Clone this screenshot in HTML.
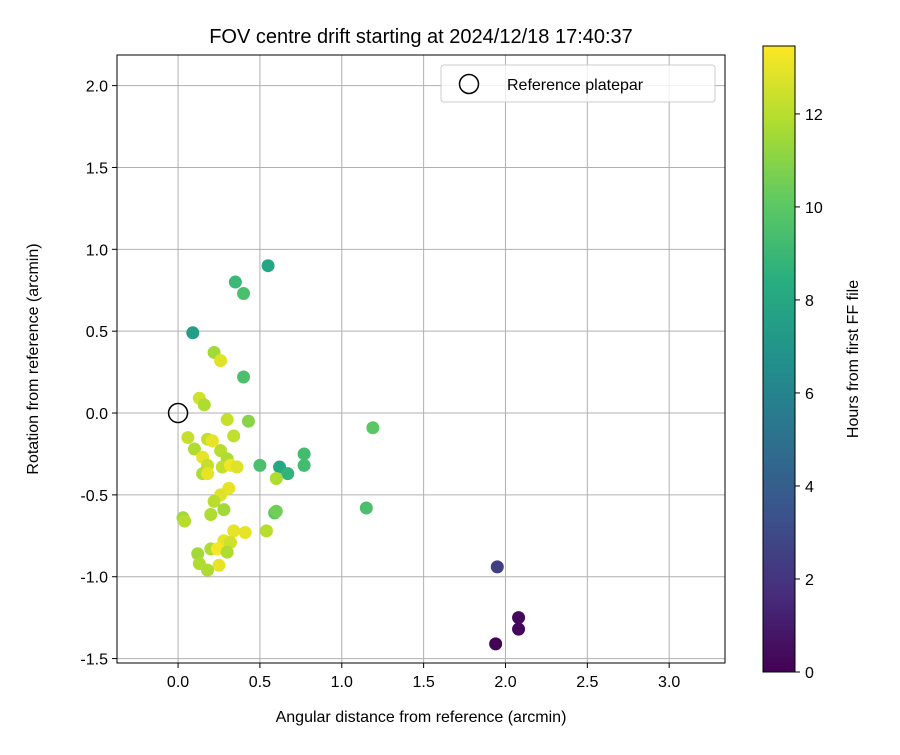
<!DOCTYPE html>
<html><head><meta charset="utf-8"><style>body{margin:0;background:#fff}svg{font-family:"Liberation Sans",sans-serif}</style></head>
<body>
<svg id="c" width="900" height="750" xmlns="http://www.w3.org/2000/svg">
<defs><linearGradient id="vir" x1="0" y1="1" x2="0" y2="0">
<stop offset="0" stop-color="#440154"/><stop offset="0.125" stop-color="#472d7b"/><stop offset="0.25" stop-color="#3b528b"/><stop offset="0.375" stop-color="#2c728e"/><stop offset="0.5" stop-color="#21918c"/><stop offset="0.625" stop-color="#28ae80"/><stop offset="0.75" stop-color="#5ec962"/><stop offset="0.875" stop-color="#addc30"/><stop offset="1" stop-color="#fde725"/></linearGradient></defs>
</svg>
<script>
const xs=[0.09,0.22,0.26,0.40,0.13,0.16,0.35,0.40,0.55,0.30,0.43,0.06,0.18,0.21,0.34,0.10,0.26,0.15,0.30,0.18,0.27,0.32,0.36,0.15,0.18,0.50,0.62,0.67,0.77,0.77,0.60,1.19,0.31,0.26,0.22,0.28,0.20,0.59,0.03,0.04,0.34,0.41,0.54,0.28,0.32,0.20,0.24,0.30,0.12,0.13,0.25,0.18,1.15,0.60,1.95,2.08,2.08,1.94];
const ys=[0.49,0.37,0.32,0.22,0.09,0.05,0.80,0.73,0.90,-0.04,-0.05,-0.15,-0.16,-0.17,-0.14,-0.22,-0.23,-0.27,-0.28,-0.32,-0.33,-0.32,-0.33,-0.37,-0.37,-0.32,-0.33,-0.37,-0.25,-0.32,-0.40,-0.09,-0.46,-0.50,-0.54,-0.59,-0.62,-0.61,-0.64,-0.66,-0.72,-0.73,-0.72,-0.78,-0.79,-0.83,-0.83,-0.85,-0.86,-0.92,-0.93,-0.96,-0.58,-0.60,-0.94,-1.25,-1.32,-1.41];
const hrs=[7.5,11.5,12.8,9.5,12.5,11.8,9,9.5,8,12.3,11,12.3,12.2,13,12.2,11.8,12,13,11.8,12.3,12.2,13.2,12.8,11.8,13,9.5,8,8.7,9.3,9.3,11.8,10,13,12.8,12,11.5,11.8,10,11.5,12,13,13,12,13,12.5,11.8,13.3,11.8,11.5,11.8,13,11.8,9.5,10.5,2.5,0.3,0.2,0.1];
const xticks=[0,0.5,1,1.5,2,2.5,3], yticks=[-1.5,-1,-0.5,0,0.5,1,1.5,2], cticks=[0,2,4,6,8,10,12];
const X0=117,X1=725,Y0=55,Y1=663,xmin=-0.373,xmax=3.341,ymin=-1.527,ymax=2.187;
const sx=v=>X0+(v-xmin)/(xmax-xmin)*(X1-X0), sy=v=>Y1-(v-ymin)/(ymax-ymin)*(Y1-Y0);
const cb={x:763,y0:46,y1:672,max:13.46}; const cy=v=>cb.y1-v/cb.max*(cb.y1-cb.y0);
const vs=[[68,1,84],[71,45,123],[59,82,139],[44,114,142],[33,145,140],[40,174,128],[94,201,98],[173,220,48],[253,231,37]];
function vir(t){t=Math.max(0,Math.min(1,t))*8;const i=Math.min(7,Math.floor(t)),f=t-i;return 'rgb('+vs[i].map((c,k)=>Math.round(c+(vs[i+1][k]-c)*f)).join(',')+')';}
const svg=document.getElementById('c'),NS='http://www.w3.org/2000/svg';
function el(t,a,txt){const e=document.createElementNS(NS,t);for(const k in a)e.setAttribute(k,a[k]);if(txt!==undefined)e.textContent=txt;svg.appendChild(e);return e;}
let e;
xticks.forEach(v=>{e=el('line',{x1:sx(v),x2:sx(v),y1:Y0,y2:Y1,stroke:'#b0b0b0','stroke-width':1});

e=el('line',{x1:sx(v),x2:sx(v),y1:Y1,y2:Y1+5,stroke:'#000'});
e=el('text',{x:sx(v),y:Y1+24,'text-anchor':'middle','font-size':16},v.toFixed(1));});
yticks.forEach(v=>{e=el('line',{x1:X0,x2:X1,y1:sy(v),y2:sy(v),stroke:'#b0b0b0','stroke-width':1});

e=el('line',{x1:X0-5,x2:X0,y1:sy(v),y2:sy(v),stroke:'#000'});
e=el('text',{x:X0-9,y:sy(v)+6,'text-anchor':'end','font-size':16},v.toFixed(1));});
xs.forEach((x,i)=>{e=el('circle',{cx:sx(x),cy:sy(ys[i]),r:6.5,fill:vir(hrs[i]/cb.max)});});
e=el('circle',{cx:sx(0),cy:sy(0),r:9.5,fill:'none',stroke:'#000','stroke-width':1.5});
e=el('rect',{x:X0,y:Y0,width:X1-X0,height:Y1-Y0,fill:'none',stroke:'#000','stroke-width':1});
e=el('rect',{x:441,y:65,width:274,height:37,rx:3,fill:'#fff','fill-opacity':0.8,stroke:'#ccc'});
e=el('circle',{cx:469,cy:84,r:9.5,fill:'none',stroke:'#000','stroke-width':1.5});
e=el('text',{x:507,y:90,'font-size':16},'Reference platepar');
e=el('text',{x:421,y:43,'text-anchor':'middle','font-size':20},'FOV centre drift starting at 2024/12/18 17:40:37');
e=el('text',{x:421,y:722,'text-anchor':'middle','font-size':16},'Angular distance from reference (arcmin)');
e=el('text',{x:0,y:0,'text-anchor':'middle','font-size':16,transform:'translate(38,359) rotate(-90)'},'Rotation from reference (arcmin)');
e=el('rect',{x:cb.x,y:cb.y0,width:32,height:cb.y1-cb.y0,fill:'url(#vir)',stroke:'#000'});
cticks.forEach(v=>{e=el('line',{x1:cb.x+32,x2:cb.x+37,y1:cy(v),y2:cy(v),stroke:'#000'});
e=el('text',{x:cb.x+42,y:cy(v)+6,'font-size':16},String(v));});
e=el('text',{x:0,y:0,'text-anchor':'middle','font-size':16,transform:'translate(858,359) rotate(-90)'},'Hours from first FF file');
</script>
</body></html>
